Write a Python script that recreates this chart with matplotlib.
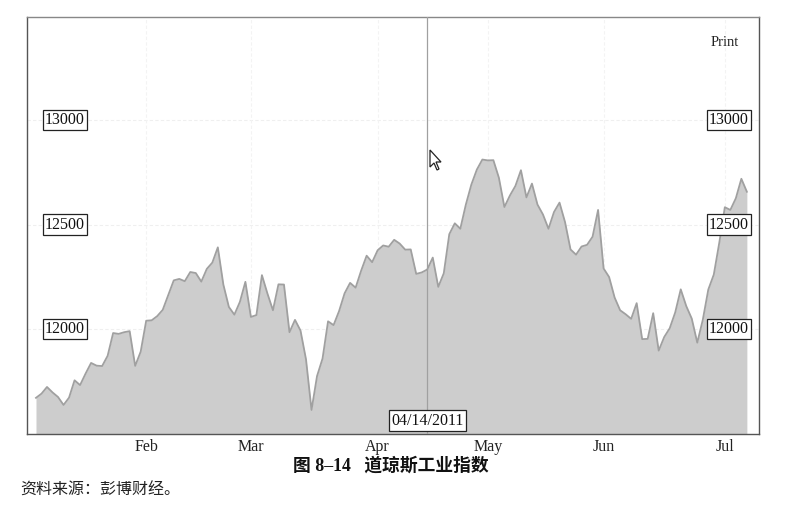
import matplotlib
matplotlib.use("Agg")
import matplotlib.pyplot as plt
from matplotlib.patches import Polygon
import numpy as np

# DJIA daily closes, trading days Jan 3 - Jul 8, 2011
jan = [11671, 11691, 11723, 11697, 11675, 11637, 11672, 11755, 11732, 11787,
       11838, 11825, 11823, 11872, 11981, 11977, 11985, 11990, 11824, 11892]
feb = [12040, 12042, 12062, 12092, 12162, 12233, 12240, 12229, 12273, 12268,
       12227, 12288, 12318, 12391, 12213, 12106, 12069, 12130, 12226]
mar = [12058, 12067, 12258, 12170, 12090, 12214, 12213, 11985, 12044, 11993,
       11855, 11613, 11775, 11859, 12037, 12019, 12086, 12171, 12221, 12198,
       12279, 12351, 12320]
apr = [12377, 12400, 12394, 12427, 12409, 12380, 12381, 12264, 12271, 12285,
       12342, 12202, 12267, 12454, 12506, 12480, 12595, 12691, 12763, 12811]
may = [12807, 12808, 12724, 12584, 12639, 12685, 12760, 12630, 12696, 12596,
       12548, 12480, 12560, 12605, 12512, 12381, 12356, 12395, 12403, 12442,
       12570]
jun = [12290, 12249, 12151, 12090, 12071, 12049, 12124, 11952, 11953, 12076,
       11897, 11962, 12004, 12080, 12190, 12110, 12050, 11935, 12044, 12189,
       12261, 12414]
jul = [12583, 12570, 12626, 12719, 12657]

months = ["Feb", "Mar", "Apr", "May", "Jun", "Jul"]
ytick_vals = [12000, 12500, 13000]
marker_label = "04/14/2011"
caption = "图 8–14   道琼斯工业指数"
source = "资料来源：彭博财经。"

values = np.array(jan + feb + mar + apr + may + jun + jul, dtype=float)
x = np.arange(len(values))
lens = [len(jan), len(feb), len(mar), len(apr), len(may), len(jun)]
month_starts = np.cumsum(lens)          # index of first day of Feb..Jul
marker_idx = len(jan) + len(feb) + len(mar) + 9   # Apr 14

W, H = 793, 508
AX_L, AX_R, AX_T, AX_B = 27, 759, 17, 434
fig = plt.figure(figsize=(W / 100, H / 100), dpi=100)
ax = fig.add_axes([AX_L / W, (H - AX_B) / H, (AX_R - AX_L) / W, (AX_B - AX_T) / H])

ax.set_xlim(-1.63, len(values) - 1 + 2.2)
ax.set_ylim(11498, 13493)

# faint grid
for v in ytick_vals:
    ax.axhline(v, color="#efefef", lw=0.8, ls=(0, (3, 2)), zorder=0)
for m in month_starts:
    ax.axvline(m, color="#f3f3f3", lw=0.8, ls=(0, (3, 2)), zorder=0)

ax.fill_between(x, values, 11400, color="#cdcdcd", lw=0, zorder=1)
ax.plot(x, values, color="#a0a0a0", lw=1.3, zorder=2)

ax.axvline(marker_idx, color="#a0a0a0", lw=0.9, zorder=3)

ax.set_xticks([])
ax.set_yticks([])
for s in ax.spines.values():
    s.set_color("#555555")
    s.set_linewidth(1.0)
ax.spines["top"].set_color("#888888")

serif = ["Liberation Serif", "DejaVu Serif"]
box = dict(boxstyle="square,pad=0.15", fc="white", ec="#222222", lw=0.9)
axw = AX_R - AX_L

# boxed y labels inside plot, left and right
for v in ytick_vals:
    ax.text((45 - AX_L) / axw, v, f"{v}", transform=ax.get_yaxis_transform(),
            fontsize=11.5, family=serif, ha="left", va="center", bbox=box,
            zorder=5, color="#111111")
    ax.text((749 - AX_L) / axw, v, f"{v}", transform=ax.get_yaxis_transform(),
            fontsize=11.5, family=serif, ha="right", va="center", bbox=box,
            zorder=5, color="#111111")

# marker date box
ax.annotate(marker_label, xy=(marker_idx, 0), xycoords=("data", "axes fraction"),
            xytext=(0, 9.5), textcoords="offset points", ha="center", va="center",
            fontsize=11.5, family=serif, bbox=box, zorder=6, color="#111111")

# mouse cursor decoration (figure pixel coords)
cx, cy = 430, 150
cur = np.array([[0, 0], [0, 17], [4, 13], [7, 20], [9, 19], [6, 12], [11, 12]], float)
pts = np.column_stack([(cx + cur[:, 0]) / W, 1 - (cy + cur[:, 1]) / H])
fig.patches.append(Polygon(pts, closed=True, fc="white", ec="#222222", lw=0.9,
                           transform=fig.transFigure, zorder=10))

# Print text
fig.text(725 / W, 1 - 42 / H, "Print", fontsize=10.5, family=serif,
         ha="center", va="center", color="#222222")

# month labels
for name, m in zip(months, month_starts):
    xd = ax.transData.transform((m, 0))[0]
    fig.text(xd / W, 1 - 447 / H, name, fontsize=11.5, family=serif,
             ha="center", va="center", color="#222222")

fig.text(391 / W, 1 - 466 / H, caption, fontsize=12.8,
         family=["Liberation Serif", "Noto Sans CJK SC"], weight="bold",
         ha="center", va="center", color="#111111")
fig.text(20 / W, 1 - 490 / H, source, fontsize=11.5,
         family=["Noto Sans CJK SC", "DejaVu Sans"], ha="left", va="center",
         color="#222222")

fig.savefig("out.png", dpi=100)
